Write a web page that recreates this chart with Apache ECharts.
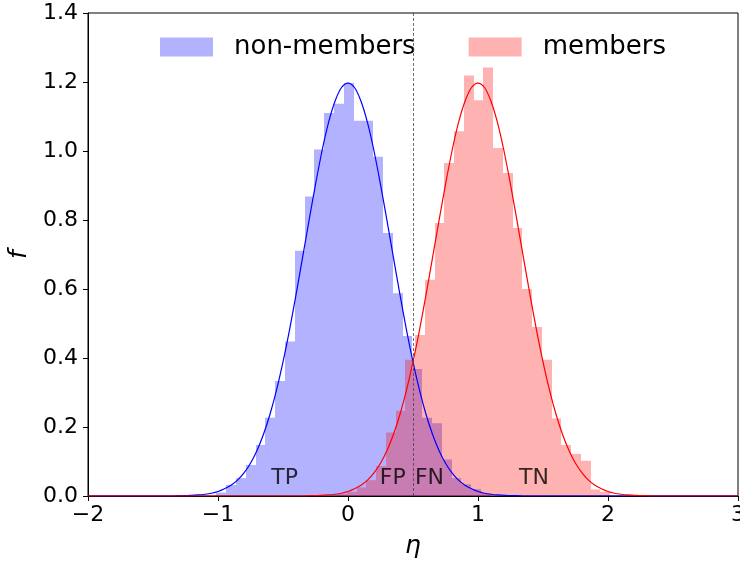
<!DOCTYPE html>
<html><head><meta charset="utf-8">
<script src="https://cdn.jsdelivr.net/npm/echarts/dist/echarts.min.js"></script>
<style>html,body{margin:0;padding:0;background:#fff}#c{width:740px;height:565px}</style>
</head><body><div id="c"></div>
<script>
// Histogram of non-members (blue): equal bins starting at blueBinStart
const blueBinStart = -1.0127;
const blueBinWidth = 0.07537;
const blueHeights = [0.010, 0.032, 0.052, 0.090, 0.148, 0.227, 0.333, 0.448, 0.711, 0.868,
  1.004, 1.110, 1.137, 1.197, 1.088, 1.088, 0.983, 0.762, 0.588, 0.464,
  0.368, 0.227, 0.211, 0.106, 0.052, 0.034, 0.020, 0.008];
// Histogram of members (red)
const redBinStart = -0.0831;
const redBinWidth = 0.0750;
const redHeights = [0.006, 0.012, 0.025, 0.046, 0.087, 0.184, 0.247, 0.395, 0.467, 0.627,
  0.791, 0.965, 1.057, 1.219, 1.147, 1.242, 1.009, 0.936, 0.777, 0.600,
  0.490, 0.395, 0.225, 0.148, 0.122, 0.102, 0.019, 0.012];
// Fitted curves
const blueCurveX = [-2, -1.35, -1.3, -1.25, -1.2, -1.15, -1.1, -1.05, -1, -0.95, -0.9, -0.85, -0.8, -0.75, -0.7,
  -0.65, -0.6, -0.55, -0.5, -0.45, -0.4, -0.35, -0.3, -0.25, -0.2, -0.15, -0.1, -0.05, 0,
  0.05, 0.1, 0.15, 0.2, 0.25, 0.3, 0.35, 0.4, 0.45, 0.5, 0.55, 0.6, 0.65, 0.7, 0.75, 0.8,
  0.85, 0.9, 0.95, 1, 1.05, 1.1, 1.15, 1.2, 1.25, 1.3, 1.35, 3];
const blueCurveY = [0, 0, 0.001, 0.001, 0.002, 0.003, 0.005, 0.008, 0.013, 0.021, 0.031, 0.046, 0.067, 0.095, 0.132,
  0.179, 0.237, 0.307, 0.389, 0.481, 0.583, 0.690, 0.798, 0.903, 1.000, 1.082, 1.144, 1.184, 1.197,
  1.184, 1.144, 1.082, 1.000, 0.903, 0.798, 0.690, 0.583, 0.481, 0.389, 0.307, 0.237, 0.179, 0.132, 0.095, 0.067,
  0.046, 0.031, 0.021, 0.013, 0.008, 0.005, 0.003, 0.002, 0.001, 0.001, 0, 0];
const redCurveX = [-2, -0.35, -0.3, -0.25, -0.2, -0.15, -0.1, -0.05, 0, 0.05, 0.1, 0.15, 0.2, 0.25, 0.3,
  0.35, 0.4, 0.45, 0.5, 0.55, 0.6, 0.65, 0.7, 0.75, 0.8, 0.85, 0.9, 0.95, 1,
  1.05, 1.1, 1.15, 1.2, 1.25, 1.3, 1.35, 1.4, 1.45, 1.5, 1.55, 1.6, 1.65, 1.7, 1.75, 1.8,
  1.85, 1.9, 1.95, 2, 2.05, 2.1, 2.15, 2.2, 2.25, 2.3, 2.35, 3];
const redCurveY = [0, 0, 0.001, 0.001, 0.002, 0.003, 0.005, 0.008, 0.013, 0.021, 0.031, 0.046, 0.067, 0.095, 0.132,
  0.179, 0.237, 0.307, 0.389, 0.481, 0.583, 0.690, 0.798, 0.903, 1.000, 1.082, 1.144, 1.184, 1.197,
  1.184, 1.144, 1.082, 1.000, 0.903, 0.798, 0.690, 0.583, 0.481, 0.389, 0.307, 0.237, 0.179, 0.132, 0.095, 0.067,
  0.046, 0.031, 0.021, 0.013, 0.008, 0.005, 0.003, 0.002, 0.001, 0.001, 0, 0];
const threshold = 0.5;
const annotations = [['TP', -0.59, 0.051], ['FP', 0.245, 0.051], ['FN', 0.515, 0.051], ['TN', 1.315, 0.051]];
const xTicks = {min: -2, max: 3, interval: 1};
const yTicks = {min: 0, max: 1.4, interval: 0.2};

const FONT = 'DejaVu Sans';
function bins(start, width, heights) {
  return heights.map((h, i) => [start + i * width, start + (i + 1) * width, h]);
}
function histRender(fill) {
  return function (params, api) {
    const p0 = api.coord([api.value(0), api.value(2)]);
    const p1 = api.coord([api.value(1), 0]);
    const x0 = Math.round(p0[0]), x1 = Math.round(p1[0]);
    return {type: 'rect', shape: {x: x0, y: p0[1], width: x1 - x0, height: p1[1] - p0[1]},
      style: {fill: fill}};
  };
}
const chart = echarts.init(document.getElementById('c'), null, {renderer: 'canvas'});
chart.setOption({
  animation: false,
  backgroundColor: '#fff',
  textStyle: {fontFamily: FONT},
  grid: {left: 88, right: 2, top: 13, bottom: 69, containLabel: false, outerBoundsMode: 'none',
    show: true, borderColor: '#000', borderWidth: 1, backgroundColor: 'transparent'},
  legend: {
    data: ['non-members', 'members'], left: 160, top: 34, padding: 0,
    icon: 'rect', itemWidth: 53, itemHeight: 19, itemGap: 53,
    textStyle: {fontFamily: FONT, fontSize: 26, color: '#000', padding: [0, 0, 0, 16], lineHeight: 26}
  },
  xAxis: {
    type: 'value', min: xTicks.min, max: xTicks.max, interval: xTicks.interval,
    name: 'η', nameLocation: 'middle', nameGap: 38,
    nameTextStyle: {fontFamily: FONT, fontSize: 25, fontStyle: 'italic', color: '#000'},
    axisLine: {onZero: false, lineStyle: {color: '#000', width: 1}},
    axisTick: {length: 5, lineStyle: {color: '#000'}},
    axisLabel: {fontFamily: FONT, fontSize: 22, color: '#000', margin: 8,
      formatter: v => v < 0 ? '\u2212' + (-v) : String(v)},
    splitLine: {show: false}
  },
  yAxis: {
    type: 'value', min: yTicks.min, max: yTicks.max, interval: yTicks.interval,
    name: 'f', nameLocation: 'middle', nameGap: 56,
    nameTextStyle: {fontFamily: FONT, fontSize: 25, fontStyle: 'italic', color: '#000'},
    axisLine: {show: true, onZero: false, lineStyle: {color: '#000', width: 1}},
    axisTick: {show: true, length: 5, lineStyle: {color: '#000'}},
    axisLabel: {fontFamily: FONT, fontSize: 22, color: '#000', margin: 10,
      formatter: v => v.toFixed(1)},
    splitLine: {show: false}
  },
  series: [
    {name: 'non-members', type: 'custom', renderItem: histRender('rgba(0,0,255,0.3)'),
      itemStyle: {color: 'rgba(0,0,255,0.3)'}, encode: {x: [0, 1], y: 2},
      data: bins(blueBinStart, blueBinWidth, blueHeights), z: 1},
    {name: 'members', type: 'custom', renderItem: histRender('rgba(255,0,0,0.3)'),
      itemStyle: {color: 'rgba(255,0,0,0.3)'}, encode: {x: [0, 1], y: 2},
      data: bins(redBinStart, redBinWidth, redHeights), z: 2},
    {name: 'fit-non', type: 'line', data: blueCurveX.map((x, i) => [x, blueCurveY[i]]),
      showSymbol: false, smooth: 0.3, lineStyle: {color: '#0000ff', width: 1.2}, z: 3,
      markLine: {silent: true, symbol: 'none', label: {show: false},
        lineStyle: {type: [3, 2], color: '#444', width: 0.8},
        data: [{xAxis: threshold}]}},
    {name: 'fit-mem', type: 'line', data: redCurveX.map((x, i) => [x, redCurveY[i]]),
      showSymbol: false, smooth: 0.3, lineStyle: {color: '#ff0000', width: 1.2}, z: 3},
    {name: 'labels', type: 'scatter', symbolSize: 0, z: 4,
      data: annotations.map(a => [a[1], a[2], a[0]]),
      label: {show: true, position: [0, 0], align: 'left', verticalAlign: 'middle',
        fontFamily: FONT, fontSize: 22, color: '#000', formatter: p => p.value[2]}}
  ]
});
</script></body></html>
